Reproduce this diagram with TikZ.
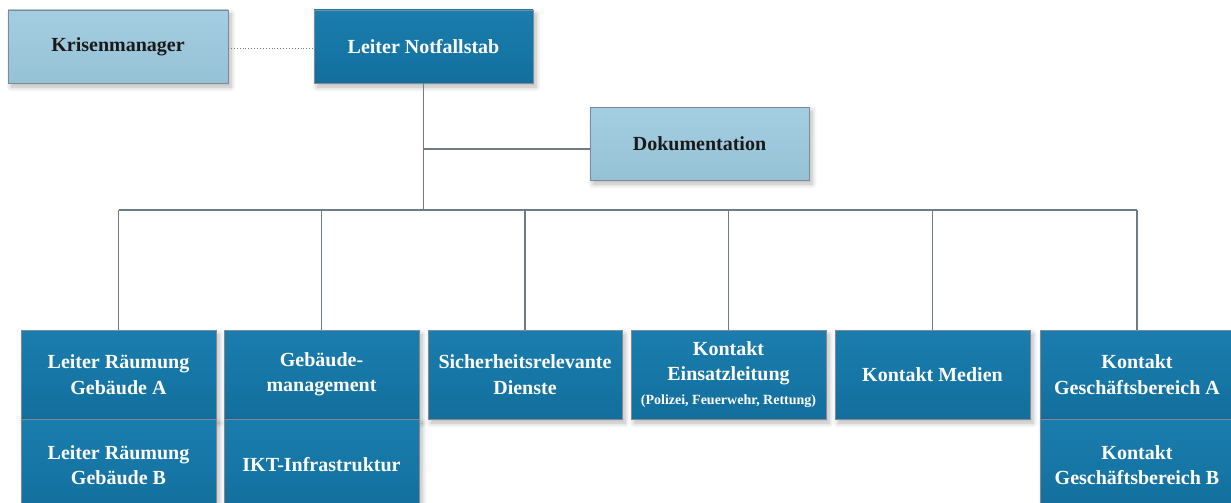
\documentclass[tikz,border=0pt]{standalone}
\usepackage{fontspec}
\setmainfont{Liberation Serif}
\usetikzlibrary{shadows.blur}
\definecolor{darkbox}{HTML}{1677A7}
\definecolor{darktop}{HTML}{1B7DAD}
\definecolor{darkbot}{HTML}{136E9C}
\definecolor{lightbox}{HTML}{9DC8DC}
\definecolor{lighttop}{HTML}{A3CDE0}
\definecolor{lightbot}{HTML}{96C2D6}
\definecolor{edgegray}{HTML}{7E8A96}
\definecolor{linegray}{HTML}{6F7C88}
\definecolor{textdark}{HTML}{1A1A1A}
\begin{document}
\begin{tikzpicture}[x=1pt,y=-1pt,
  box/.style={rectangle, draw=edgegray, line width=0.8pt, inner sep=0pt, outer sep=0pt,
    anchor=north west, align=center, font=\fontsize{20}{25.5}\selectfont\bfseries,
    blur shadow={shadow xshift=3pt, shadow yshift=-4pt, shadow blur steps=6, shadow opacity=28, shadow blur radius=5pt}},
  darkb/.style={box, top color=darktop, bottom color=darkbot, middle color=darkbox, text=white},
  lightb/.style={box, top color=lighttop, bottom color=lightbot, middle color=lightbox, text=textdark},
  conn/.style={draw=linegray, line width=1.3pt},
  dotconn/.style={draw=linegray, line width=0.9pt, dotted}]
\useasboundingbox (0,0) rectangle (1231,503);
\clip (0,0) rectangle (1231,503);
% top level
\node[lightb, minimum width=220pt, minimum height=73pt] (km) at (8,10) {Krisenmanager};
\node[darkb, minimum width=219pt, minimum height=73pt] (ln) at (314,10) {Leiter Notfallstab};
\node[lightb, minimum width=219pt, minimum height=73pt] (doc) at (590,107) {Dokumentation};
% row 1
\node[darkb, minimum width=195pt, minimum height=89pt] (b1) at (21,330) {Leiter Räumung\\Gebäude A};
\node[darkb, minimum width=195pt, minimum height=89pt] (b2) at (224,330) {Gebäude-\\management};
\node[darkb, minimum width=194pt, minimum height=89pt] (b3) at (428,330) {Sicherheitsrelevante\\Dienste};
\node[darkb, minimum width=195pt, minimum height=89pt] (b4) at (631,330) {Kontakt\\Einsatzleitung\\[-2pt]{\fontsize{14}{16}\selectfont (Polizei, Feuerwehr, Rettung)}};
\node[darkb, minimum width=195pt, minimum height=89pt] (b5) at (835,330) {Kontakt Medien};
\node[darkb, minimum width=194pt, minimum height=89pt] (b6) at (1040,330) {Kontakt\\Geschäftsbereich A};
% row 2
\node[darkb, minimum width=195pt, minimum height=92pt] (c1) at (21,419) {Leiter Räumung\\Gebäude B};
\node[darkb, minimum width=195pt, minimum height=92pt] (c2) at (224,419) {IKT-Infrastruktur};
\node[darkb, minimum width=194pt, minimum height=92pt] (c6) at (1040,419) {Kontakt\\Geschäftsbereich B};
% connectors
\coordinate (bus) at (0,210);
\coordinate (docj) at (0,149);
\coordinate (kmj) at (0,48);
\draw[dotconn] (km.east |- kmj) -- (ln.west |- kmj);
\draw[conn] (ln.south) -- (ln.south |- bus);
\draw[conn] (ln.south |- docj) -- (doc.west |- docj);
\draw[conn] (b1.north |- bus) -- (b6.north |- bus);
\draw[conn] (b1.north |- bus) -- (b1.north);
\draw[conn] (b2.north |- bus) -- (b2.north);
\draw[conn] (b3.north |- bus) -- (b3.north);
\draw[conn] (b4.north |- bus) -- (b4.north);
\draw[conn] (b5.north |- bus) -- (b5.north);
\draw[conn] (b6.north |- bus) -- (b6.north);
\end{tikzpicture}
\end{document}
